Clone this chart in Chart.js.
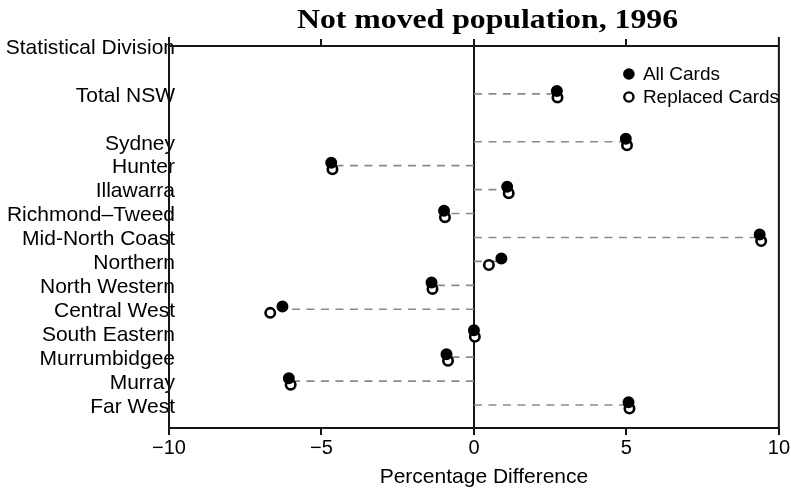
<!DOCTYPE html>
<html><head><meta charset="utf-8">
<script src="https://cdn.jsdelivr.net/npm/chart.js@4.4.1/dist/chart.umd.min.js"></script>
<style>html,body{margin:0;padding:0;background:#fff}</style>
</head><body>
<canvas id="c" width="791" height="490"></canvas>
<script>
// ---- data ----
const categories = ["Total NSW","Sydney","Hunter","Illawarra","Richmond–Tweed","Mid-North Coast","Northern","North Western","Central West","South Eastern","Murrumbidgee","Murray","Far West"];
const rowPositions = [14,12,11,10,9,8,7,6,5,4,3,2,1];
const headerLabel = "Statistical Division";
const headerPosition = 16;
const allCards = [2.72,4.98,-4.68,1.09,-0.98,9.37,0.90,-1.39,-6.28,0.00,-0.90,-6.07,5.07];
const replacedCards = [2.74,5.02,-4.64,1.14,-0.95,9.42,0.49,-1.36,-6.68,0.03,-0.85,-6.01,5.10];
const xTicks = [-10,-5,0,5,10];
const topTicks = [-5,0,5];
const seriesNames = ["All Cards","Replaced Cards"];
const titleText = "Not moved population, 1996";
const xTitle = "Percentage Difference";

// ---- style ----
const SANS = "'Liberation Sans', Arial, Helvetica, sans-serif";
const INK = '#161616';
const offAll = 0.12, offRep = -0.15;

const dashData = [];
categories.forEach((c,i)=>{
  dashData.push({x:0,y:rowPositions[i]},{x:allCards[i],y:rowPositions[i]},{x:NaN,y:NaN});
});
const labelFor = {};
categories.forEach((c,i)=>{ labelFor[rowPositions[i]] = c; });
labelFor[headerPosition] = headerLabel;

const fmt = v => v < 0 ? '\u2212' + Math.abs(v) : String(v);

const decor = {
  id:'decor',
  afterDraw(chart){
    const {ctx, chartArea:a, scales:{x, y}} = chart;
    ctx.save();
    // category labels, right-aligned just past the left axis line
    ctx.fillStyle = '#000';
    ctx.font = "21px " + SANS; ctx.textAlign = 'right'; ctx.textBaseline = 'middle';
    y.ticks.forEach(t => {
      ctx.fillText(labelFor[t.value] || '', a.left + 6, y.getPixelForValue(t.value) + 2);
    });
    // x-axis title
    ctx.textAlign = 'center';
    ctx.fillText(xTitle, (a.left + a.right) / 2 + 10, 477);
    // frame
    ctx.strokeStyle = INK; ctx.lineWidth = 2; ctx.lineCap = 'butt';
    ctx.beginPath();
    ctx.moveTo(a.left, a.top - 9); ctx.lineTo(a.left, a.bottom + 1);
    ctx.moveTo(a.right, a.top - 9); ctx.lineTo(a.right, a.bottom + 1);
    ctx.moveTo(a.left, a.top); ctx.lineTo(a.right, a.top);
    ctx.moveTo(a.left - 1, a.bottom); ctx.lineTo(a.right + 1, a.bottom);
    topTicks.forEach(v=>{ const px = Math.round(x.getPixelForValue(v)); ctx.moveTo(px, a.top); ctx.lineTo(px, a.top - 7); });
    ctx.stroke();
    // title (serif, slightly wide)
    ctx.fillStyle = '#000';
    ctx.font = "bold 26.5px 'Liberation Serif', 'Times New Roman', serif";
    ctx.textAlign = 'center'; ctx.textBaseline = 'alphabetic';
    const w = ctx.measureText(titleText).width;
    ctx.save();
    ctx.translate(487.5, 27.5);
    ctx.scale(381 / w, 1);
    ctx.fillText(titleText, 0, 0);
    ctx.restore();
    // legend
    const lx = a.right - 150, ly1 = a.top + 28, ly2 = a.top + 51;
    ctx.beginPath(); ctx.arc(lx, ly1, 5.8, 0, Math.PI*2); ctx.fillStyle = '#000'; ctx.fill();
    ctx.beginPath(); ctx.arc(lx, ly2, 4.6, 0, Math.PI*2); ctx.fillStyle = '#fff'; ctx.fill();
    ctx.lineWidth = 2.4; ctx.strokeStyle = '#000'; ctx.stroke();
    ctx.fillStyle = '#000'; ctx.font = "19px " + SANS; ctx.textAlign = 'left'; ctx.textBaseline = 'middle';
    ctx.fillText(seriesNames[0], lx + 14, ly1 + 1);
    ctx.fillText(seriesNames[1], lx + 14, ly2 + 1);
    ctx.restore();
  }
};

new Chart(document.getElementById('c'), {
  type: 'scatter',
  data: {
    datasets: [
      { label: seriesNames[0], order: 0,
        data: allCards.map((v,i)=>({x:v, y:rowPositions[i] + offAll})),
        pointRadius: 5, borderWidth: 2, backgroundColor: '#000', borderColor: '#000', pointHoverRadius: 5 },
      { label: seriesNames[1], order: 1,
        data: replacedCards.map((v,i)=>({x:v, y:rowPositions[i] + offRep})),
        pointRadius: 4.7, borderWidth: 2.6, backgroundColor: '#fff', borderColor: '#000', pointHoverRadius: 4.7 },
      { label: 'guides', type: 'line', order: 2, data: dashData,
        showLine: true, spanGaps: false, pointRadius: 0, borderColor: '#8a8a8a', borderWidth: 1.6,
        borderDash: [8, 6.5], fill: false, tension: 0 }
    ]
  },
  options: {
    responsive: false, animation: false, devicePixelRatio: 1,
    layout: { padding: { top: 46, right: 10, left: 0, bottom: 0 } },
    plugins: { legend: { display: false }, tooltip: { enabled: false }, title: { display: false } },
    scales: {
      x: {
        type: 'linear', min: -10, max: 10,
        afterBuildTicks: s => { s.ticks = xTicks.map(v=>({value:v})); },
        afterFit: s => { s.height = 62; },
        ticks: { callback: v => fmt(v), color: '#000', font: { family: SANS, size: 20 }, padding: 1, maxRotation: 0, autoSkip: false },
        grid: { drawOnChartArea: true, color: c => (c.tick && c.tick.value === 0) ? INK : 'rgba(0,0,0,0)',
                lineWidth: 2, drawTicks: true, tickLength: 7, tickColor: INK, tickWidth: 2 },
        border: { display: false },
        title: { display: false }
      },
      y: {
        type: 'linear', min: 0.04, max: 16,
        afterBuildTicks: s => { s.ticks = [...rowPositions, headerPosition].map(v=>({value:v})); },
        afterFit: s => { s.width = 169; },
        ticks: { display: false, autoSkip: false },
        grid: { display: false, drawTicks: false },
        border: { display: false }
      }
    }
  },
  plugins: [decor]
});
</script>
</body></html>
